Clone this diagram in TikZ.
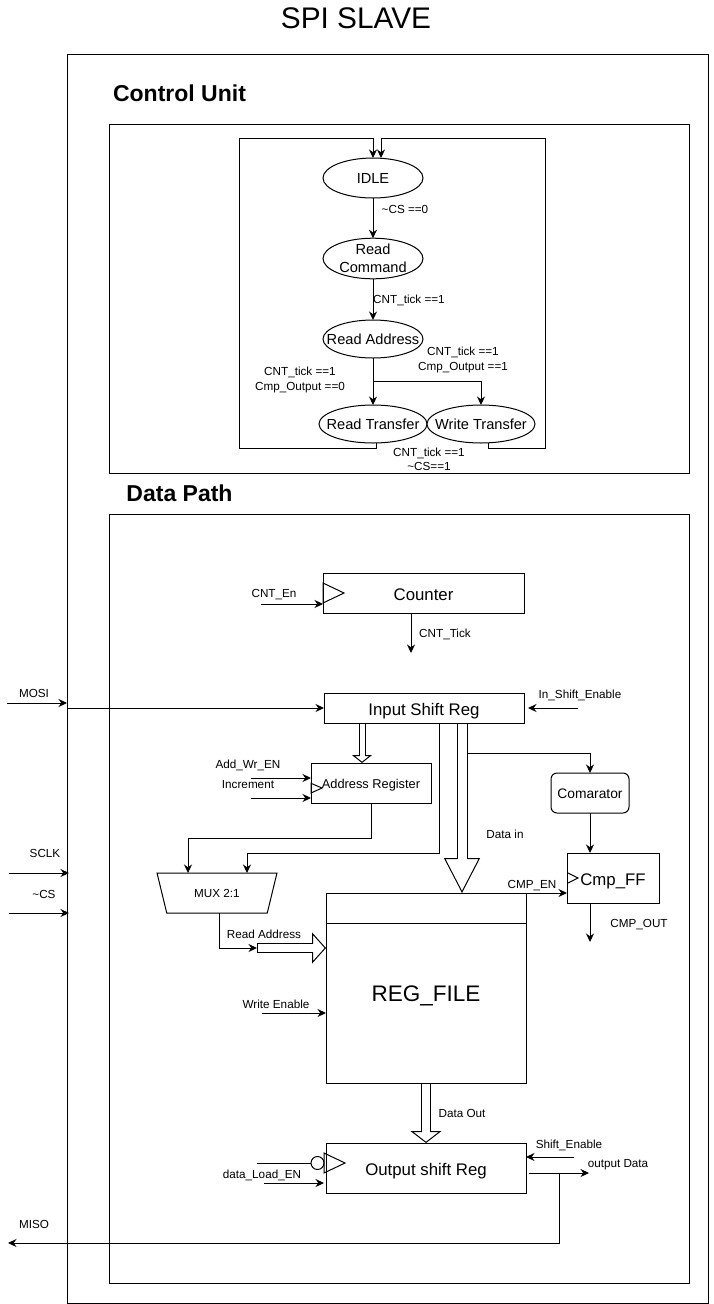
\documentclass[tikz,border=0pt]{standalone}
\usepackage{fontspec}
\setmainfont{Liberation Sans}
\usetikzlibrary{arrows.meta,shapes.geometric}
\begin{document}
\begin{tikzpicture}[
        x=1pt,
        y=-1pt,
        line width=1pt,
        >={Stealth[length=8.5pt,width=8pt]}
    ]
    \tikzset{
        lbl/.style = {inner sep=0pt, align=center, font=\fontsize{11.7}{14.5}\selectfont},
        mybox/.style = {rectangle, draw=black, fill=white, inner sep=0pt, outer sep=0pt, text height=14pt, text depth=0pt, font=\fontsize{16.8}{19}\selectfont},
        state/.style = {ellipse, draw=black, fill=white, inner sep=0pt, outer sep=0pt, minimum width=100pt, minimum height=40pt, align=center, font=\fontsize{14.6}{18}\selectfont},
        head/.style = {inner sep=0pt, font=\fontsize{23}{26}\selectfont\bfseries},
        bus/.style n args = {3}{line width=#1, -{Triangle[open,width=#2,length=#3,line width=1pt]},
            postaction={draw=white, -, line width=#1-2pt, shorten <=1pt, shorten >=#3-1.5pt}},
    }
    \useasboundingbox (0,0) rectangle (714,1304);
    \node[inner sep=0pt, font=\fontsize{29.8}{32}\selectfont] at (356,18) (title) {SPI SLAVE};
    \node[mybox, minimum width=641pt, minimum height=1249pt] at (387.5,678.5) (outer) {};
    \node[mybox, minimum width=580pt, minimum height=349pt] at (399,298.5) (ctrl) {};
    \node[mybox, minimum width=580pt, minimum height=769pt] at (399,898.5) (dpath) {};
    \node[head] at (179.5,93) (ctrlname) {Control Unit};
    \node[head] at (179.5,493) (dpathname) {Data Path};
    %
    \node[state] at (373,178) (idle) {IDLE};
    \node[state] at (373,258.5) (rdcmd) {\makebox[0pt]{Read}\\\makebox[0pt]{Command}};
    \node[state, minimum height=38pt] at (373,339) (rdaddr) {\makebox[0pt]{Read Address}};
    \node[state, minimum width=108pt, minimum height=38pt] at (373,424) (rdtr) {\makebox[0pt]{Read Transfer}};
    \node[state, minimum width=108pt, minimum height=38pt] at (481,424) (wrtr) {\makebox[0pt]{Write Transfer}};
    %
    \draw[->] (idle) -- (rdcmd);
    \draw[->] (rdcmd) -- (rdaddr);
    \draw[->] (rdaddr) -- (rdtr);
    \draw[->] (rdaddr.south) -- ++(0,23) -| (wrtr.north);
    \draw[->] ([xshift=3pt]rdtr.south) -- ++(0,5) -- ++(-137,0) -- ++(0,-310) -- ++(134,0) -- (idle.north);
    \draw[->] ([xshift=7pt]wrtr.south) -- ++(0,5) -- ++(57,0) -- ++(0,-310) -- ++(-164,0) -- ([xshift=8pt]idle.north);
    %
    \node[lbl] at (405,209) (lblcs) {\textasciitilde CS ==0};
    \node[lbl] at (409,300) (lbltick) {CNT\_tick ==1};
    \node[lbl] at (463,360) (lblwr) {CNT\_tick ==1\\Cmp\_Output ==1};
    \node[lbl] at (300,380) (lblrd) {CNT\_tick ==1\\Cmp\_Output ==0};
    \node[lbl] at (429,459.5) (lblback) {CNT\_tick ==1\\\textasciitilde CS==1};
    %
    \node[mybox, minimum width=201pt, minimum height=40pt] at (423.5,593) (cntr) {Counter};
    \node[mybox, minimum width=200pt, minimum height=30pt] at (424,708) (isr) {Input Shift Reg};
    \node[mybox, minimum width=120pt, minimum height=40pt, text height=11.2pt, font=\fontsize{12.8}{15}\selectfont] at (371,783) (areg) {Address Register};
    \node[mybox, rounded corners=6pt, minimum width=78pt, minimum height=40pt, text height=11.8pt, font=\fontsize{13.8}{16}\selectfont] at (590,793) (cmp) {Comarator};
    \node[mybox, minimum width=92pt, minimum height=50pt] at (613,878) (ff) {Cmp\_FF};
    \node[trapezium, trapezium stretches=true, trapezium angle=62, shape border rotate=180, draw=black, fill=white, inner sep=0pt, outer sep=0pt, minimum width=120pt, minimum height=40pt, font=\fontsize{11.7}{14}\selectfont] at (217,893) (mux) {MUX 2:1};
    \node[mybox, minimum width=200pt, minimum height=190pt, text height=26pt, font=\fontsize{22.5}{26}\selectfont] at (426,988) (rf) {REG\_FILE};
    \node[mybox, minimum width=200pt, minimum height=50pt] at (426,1168) (osr) {Output shift Reg};
    \node[circle, draw=black, fill=white, inner sep=0pt, outer sep=0pt, minimum size=13pt] at (317.5,1163) (bubble) {};
    %
    \coordinate (cntin) at (261,604);
    \coordinate (ticktail) at (411,653);
    \coordinate (inshiftin) at (578,708);
    \coordinate (wren) at (251,778);
    \coordinate (incr) at (251,798);
    \coordinate (ratail) at (257,948);
    \coordinate (wrenable) at (262,1013);
    \coordinate (cmpout) at (590,942);
    \coordinate (loadclk) at (257,1163);
    \coordinate (loaden) at (264,1183);
    \coordinate (shiften) at (574,1157);
    \coordinate (osrout) at (529,1173);
    \coordinate (osrtap) at (559,1173);
    \coordinate (outdata) at (589,1173);
    \coordinate (misotip) at (8,1243);
    \coordinate (mosiin) at (7,703);
    \coordinate (sclkin) at (9,873);
    \coordinate (csin) at (9,913);
    %
    % clock marks
    \draw ([yshift=10pt]cntr.west) -- ([xshift=21pt]cntr.west) -- ([yshift=-10pt]cntr.west) -- cycle;
    \draw ([yshift=-0.3pt]areg.west) -- ([xshift=11pt,yshift=-5pt]areg.west) -- ([yshift=-10pt]areg.west) -- cycle;
    \draw ([xshift=1pt,yshift=5pt]ff.west) -- ([xshift=11pt]ff.west) -- ([xshift=1pt,yshift=-5pt]ff.west);
    \draw ([xshift=-2pt,yshift=15pt]osr.west) -- ([xshift=19pt,yshift=5pt]osr.west) -- ([xshift=-2pt,yshift=-5pt]osr.west) -- cycle;
    \draw ([yshift=-30pt]rf.north west) -- ([yshift=-30pt]rf.north east);
    %
    \draw[bus={7pt}{20pt}{8pt}] ([xshift=-62pt]isr.south) -- ([xshift=-9pt]areg.north);
    \draw[bus={11pt}{36pt}{35pt}] ([xshift=38pt]isr.south) -- ([xshift=36pt]rf.north);
    \draw[bus={10pt}{31pt}{14pt}] (ratail) -- (rf.west |- ratail);
    \draw[bus={10pt}{31pt}{12pt}] (rf.south) -- (osr.north);
    %
    \draw[->] (cntin) -- (cntr.west |- cntin);
    \draw[->] ([xshift=-12.5pt]cntr.south) -- (ticktail);
    \draw[->] (outer.west |- isr.west) -- (isr.west);
    \draw[->] (inshiftin) -- ([xshift=4pt]isr.east);
    \draw[->] (wren) -- (areg.west |- wren);
    \draw[->] (incr) -- (areg.west |- incr);
    \draw[->] (areg.south) -- ++(0,35) -| ([xshift=-29pt]mux.north);
    \draw[->] ([xshift=15pt]isr.south) -- ++(0,130) -| ([xshift=30pt]mux.north);
    \draw[->] ([xshift=2pt]mux.south) |- (ratail);
    \draw[->] ([xshift=43pt,yshift=-30pt]isr.south) -| (cmp.north);
    \draw[->] (cmp.south) -- (cmp.south |- ff.north);
    \draw[->] (rf.north east) -- (ff.west |- rf.north east);
    \draw[->] (cmp.south |- ff.south) -- (cmpout);
    \draw[->] (wrenable) -- (rf.west |- wrenable);
    \draw (loadclk) -- (bubble.west);
    \draw[->] (loaden) -- ([xshift=-2pt]osr.west |- loaden);
    \draw[->] (shiften) -- (osr.east |- shiften);
    \draw[->] (osrout) -- (outdata);
    \draw[->] (osrtap) |- (misotip);
    \draw[->] (mosiin) -- (outer.west |- mosiin);
    \draw[->] (sclkin) -- ([xshift=2pt]outer.west |- sclkin);
    \draw[->] (csin) -- ([xshift=2pt]outer.west |- csin);
    %
    \node[lbl] at (274,594.5) (lblcnten) {CNT\_En};
    \node[lbl] at (445,634) (lblcnttick) {CNT\_Tick};
    \node[lbl] at (580,695) (lblinshift) {In\_Shift\_Enable};
    \node[lbl] at (248,765) (lblwren) {Add\_Wr\_EN};
    \node[lbl] at (248,785) (lblincr) {Increment};
    \node[lbl] at (505,834.5) (lbldatain) {Data in};
    \node[lbl] at (532,885.5) (lblcmpen) {CMP\_EN};
    \node[lbl] at (639,924.5) (lblcmpout) {CMP\_OUT};
    \node[lbl] at (264,934) (lblraddr) {Read Address};
    \node[lbl] at (276,1004) (lblwe) {Write Enable};
    \node[lbl] at (462,1113.5) (lbldataout) {Data Out};
    \node[lbl] at (569,1145) (lblshiften) {Shift\_Enable};
    \node[lbl] at (618,1164.5) (lbloutdata) {output Data};
    \node[lbl] at (262,1175) (lblload) {data\_Load\_EN};
    \node[lbl] at (34,1224) (lblmiso) {MISO};
    \node[lbl] at (34,693) (lblmosi) {MOSI};
    \node[lbl] at (45,853) (lblsclk) {SCLK};
    \node[lbl] at (44,894) (lblcs2) {\textasciitilde CS};
\end{tikzpicture}
\end{document}
